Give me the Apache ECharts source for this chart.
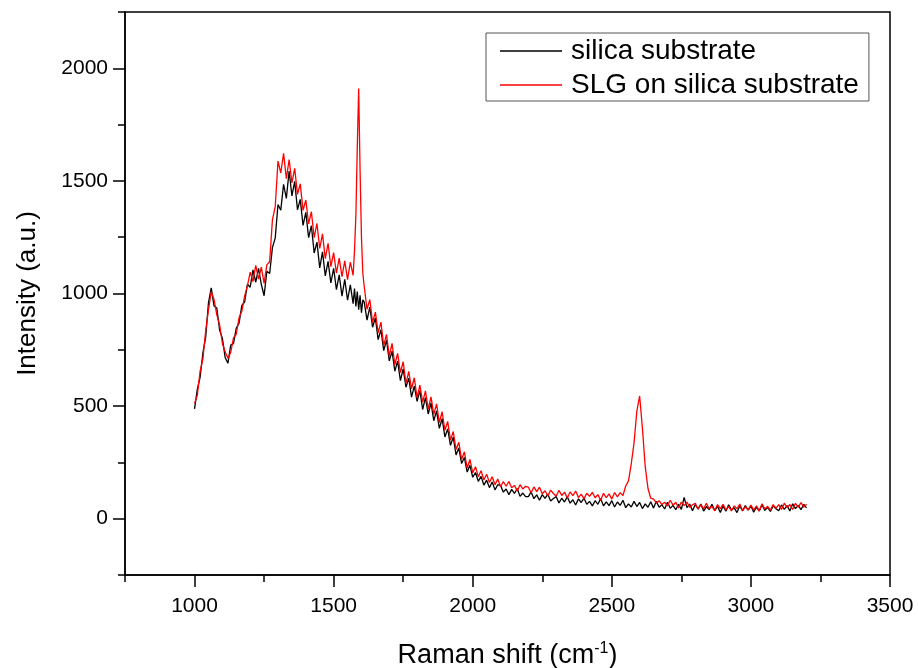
<!DOCTYPE html>
<html>
<head>
<meta charset="utf-8">
<script src="https://cdn.jsdelivr.net/npm/echarts@6/dist/echarts.min.js"></script>
<style>
html,body{margin:0;padding:0;background:#fff;}
#chart{width:918px;height:668px;}
</style>
</head>
<body>
<div id="chart"></div>
<script>
// Raman shift (cm^-1) sample positions
const ramanShift = [
1000,1010,1020,1030,1040,1050,1060,1070,1080,1090,
1100,1110,1120,1130,1140,1150,1160,1170,1180,1190,
1200,1210,1220,1230,1240,1250,1260,1270,1280,1290,
1300,1310,1320,1330,1340,1350,1360,1370,1380,1390,
1400,1410,1420,1430,1440,1450,1460,1470,1480,1490,
1500,1510,1520,1530,1540,1550,1560,
1570,1575,1580,1585,1590,1595,1600,1605,1610,
1620,1630,1640,1650,1660,1670,1680,1690,
1700,1710,1720,1730,1740,1750,1760,1770,1780,1790,
1800,1810,1820,1830,1840,1850,1860,1870,1880,1890,
1900,1910,1920,1930,1940,1950,1960,1970,1980,1990,
2000,2010,2020,2030,2040,2050,2060,2070,2080,2090,
2100,2110,2120,2130,2140,2150,2160,2170,2180,2190,
2200,2210,2220,2230,2240,2250,2260,2270,2280,2290,
2300,2310,2320,2330,2340,2350,2360,2370,2380,2390,
2400,2410,2420,2430,2440,2450,2460,2470,2480,2490,
2500,2510,2520,2530,2540,2550,2560,2570,2580,2590,
2600,2610,2620,2630,2640,2650,2660,2670,2680,2690,
2700,2710,2720,2730,2740,2750,2760,2770,2780,2790,
2800,2810,2820,2830,2840,2850,2860,2870,2880,2890,
2900,2910,2920,2930,2940,2950,2960,2970,2980,2990,
3000,3010,3020,3030,3040,3050,3060,3070,3080,3090,
3100,3110,3120,3130,3140,3150,3160,3170,3180,3190,
3200
];

// silica substrate intensity (a.u.)
const silica = [
488,575,628,736,806,958,1025,945,936,838,
802,716,690,771,778,846,868,947,962,1041,
1028,1105,1050,1112,1041,990,1099,1089,1205,1246,
1395,1370,1485,1422,1544,1433,1498,1372,1418,1302,
1360,1248,1301,1180,1228,1114,1185,1078,1143,1047,
1112,1017,1083,988,1063,970,1038,
955,1022,943,1009,928,992,915,972,962,
882,940,850,892,795,839,746,793,
701,744,655,700,613,665,584,624,540,589,
521,569,485,538,465,514,435,479,401,444,
363,399,326,362,283,314,245,272,207,237,
184,205,166,188,149,171,138,163,128,151,
147,118,132,107,130,112,134,99,114,98,
98,119,89,106,82,107,90,109,79,90,
98,70,91,74,98,69,84,61,88,72,
91,64,77,57,80,64,89,57,75,58,
80,52,74,59,82,49,66,52,77,54,
72,45,66,51,75,47,77,51,62,43,
73,46,59,40,64,41,95,49,65,35,
63,43,65,34,54,40,64,36,55,28,
56,33,62,39,48,27,57,35,58,38,
56,29,51,34,62,37,50,32,57,44,
35,61,41,58,34,66,45,59,40,64,
48
];

// SLG on silica substrate intensity (a.u.)
const slg = [
512,548,655,709,834,927,1008,974,905,862,
779,741,712,738,803,819,893,921,988,1034,
1095,1053,1125,1064,1117,1045,1127,1141,1328,1385,
1588,1535,1622,1510,1595,1491,1556,1440,1487,1369,
1415,1309,1363,1248,1311,1200,1265,1155,1223,1119,
1182,1090,1157,1075,1145,1062,1139,
1080,1190,1350,1650,1910,1550,1250,1090,1030,
930,973,871,917,825,873,767,818,
722,779,683,734,649,697,600,654,577,626,
536,593,518,568,486,541,463,510,427,475,
393,432,349,387,307,339,263,297,225,263,
204,231,186,213,172,197,161,186,151,176,
142,165,144,165,137,148,123,151,132,144,
140,115,141,120,140,111,124,101,127,112,
100,126,103,118,92,119,102,123,94,109,
88,113,99,117,93,107,81,113,94,110,
87,116,97,116,103,145,168,245,338,478,
545,402,232,134,91,87,70,80,63,73,
57,82,60,73,48,74,58,74,50,62,
68,42,62,44,68,44,55,35,63,45,
64,38,55,34,57,44,65,36,53,39,
61,38,57,35,66,43,55,38,63,46,
63,41,69,49,63,41,68,51,71,51,
64
];

const xMajorTicks = [1000,1500,2000,2500,3000,3500];
const yMajorTicks = [0,500,1000,1500,2000];
const seriesNames = ['silica substrate','SLG on silica substrate'];

const FONT = '"Liberation Sans", Arial, sans-serif';
const chart = echarts.init(document.getElementById('chart'), null, {renderer:'canvas'});

chart.setOption({
  backgroundColor:'#ffffff',
  animation:false,
  grid:{left:125, right:28, top:12, bottom:93, outerBoundsMode:'none', containLabel:false,
    show:true, borderColor:'#000', borderWidth:1.5, backgroundColor:'transparent'},
  legend:{
    data:seriesNames,
    orient:'vertical',
    left:486, top:33,
    padding:[2,10,0,14],
    itemGap:2,
    icon:'rect',
    itemWidth:62, itemHeight:1.5,
    borderColor:'#555', borderWidth:1, backgroundColor:'#fff',
    textStyle:{fontFamily:FONT, fontSize:28, color:'#000', lineHeight:32, padding:[0,0,0,4]}
  },
  xAxis:[
    {
      type:'value', min:750, max:3500, interval:250,
      axisLine:{show:true, onZero:false, lineStyle:{color:'#000', width:1.5}},
      axisTick:{show:true, length:7, lineStyle:{color:'#000', width:1.5}},
      axisLabel:{show:false},
      splitLine:{show:false},
      name:'Raman shift (cm{sup|-1})',
      nameLocation:'middle', nameGap:66,
      nameTextStyle:{fontFamily:FONT, fontSize:27, color:'#000',
        rich:{sup:{fontFamily:FONT, fontSize:16, color:'#000', padding:[0,0,14,0]}}}
    },
    {
      type:'value', min:750, max:3500, interval:250, position:'bottom',
      axisLine:{show:false, onZero:false},
      axisTick:{show:true, length:12, customValues:xMajorTicks, lineStyle:{color:'#000', width:1.5}},
      axisLabel:{show:true, customValues:xMajorTicks, margin:21, fontFamily:FONT, fontSize:21, color:'#000',
        formatter:function(v){return String(v);}},
      splitLine:{show:false}
    }
  ],
  yAxis:[
    {
      type:'value', min:-250, max:2250, interval:250,
      axisLine:{show:true, onZero:false, lineStyle:{color:'#000', width:1.5}},
      axisTick:{show:true, length:7, lineStyle:{color:'#000', width:1.5}},
      axisLabel:{show:false},
      splitLine:{show:false},
      name:'Intensity (a.u.)',
      nameLocation:'middle', nameGap:84,
      nameTextStyle:{fontFamily:FONT, fontSize:26, color:'#000'}
    },
    {
      type:'value', min:-250, max:2250, interval:250, position:'left', offset:0,
      axisLine:{show:false, onZero:false},
      axisTick:{show:true, length:12, customValues:yMajorTicks, lineStyle:{color:'#000', width:1.5}},
      axisLabel:{show:true, customValues:yMajorTicks, margin:17, fontFamily:FONT, fontSize:21, color:'#000',
        formatter:function(v){return String(v);}},
      splitLine:{show:false}
    }
  ],
  series:[
    {
      name:seriesNames[0], type:'line', xAxisIndex:0, yAxisIndex:0,
      symbol:'none', lineStyle:{color:'#000000', width:1.3}, itemStyle:{color:'#000000'},
      data:ramanShift.map((x,i)=>[x, silica[i]]), z:2
    },
    {
      name:seriesNames[1], type:'line', xAxisIndex:0, yAxisIndex:0,
      symbol:'none', lineStyle:{color:'#ff0000', width:1.3}, itemStyle:{color:'#ff0000'},
      data:ramanShift.map((x,i)=>[x, slg[i]]), z:3
    }
  ]
});
</script>
</body>
</html>
